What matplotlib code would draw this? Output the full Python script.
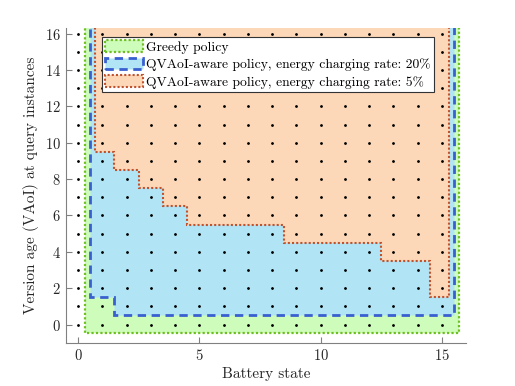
import numpy as np
import matplotlib
matplotlib.use("Agg")
from matplotlib import pyplot as plt
from matplotlib.patches import Polygon

plt.rcParams['font.family'] = ['cmr10', 'DejaVu Serif']
plt.rcParams['axes.formatter.use_mathtext'] = True

# policy regions: step edges (battery state) and lower bound (VAoI) per step
greedy_x = [0.3, 15.7]
greedy_y = [-0.45]
rate20_x = [0.5, 1.5, 15.5]
rate20_y = [1.5, 0.5]
rate5_x = [0.7, 1.5, 2.5, 3.5, 4.5, 8.5, 12.5, 14.5, 15.3]
rate5_y = [9.5, 8.5, 7.5, 6.5, 5.5, 4.5, 3.5, 1.5]

battery = np.arange(0, 16)
vaoi = np.arange(0, 17)
top = 17


def stair(xs, ys):
    pts = [(xs[0], top)]
    for i, y in enumerate(ys):
        pts.append((xs[i], y))
        pts.append((xs[i + 1], y))
    pts.append((xs[-1], top))
    return pts


def main():
    fig = plt.figure(figsize=(5.15, 3.86), dpi=100)
    ax = fig.add_axes([0.128, 0.112, 0.777, 0.815])

    g = Polygon(stair(greedy_x, greedy_y), closed=True, facecolor='#cdfcbb',
                edgecolor='#6fbf22', linestyle=(0, (1, 1)), linewidth=1.6,
                label='Greedy policy')
    b = Polygon(stair(rate20_x, rate20_y), closed=True, facecolor='#b1e5f6',
                edgecolor='#3a5fd0', linestyle=(0, (3, 2)), linewidth=2,
                label='QVAoI-aware policy, energy charging rate: 20%')
    o = Polygon(stair(rate5_x, rate5_y), closed=True, facecolor='#fdd8b8',
                edgecolor='#c0522e', linestyle=(0, (1, 1)), linewidth=1.5,
                label='QVAoI-aware policy, energy charging rate: 5%')
    for p in (g, b, o):
        ax.add_patch(p)

    xx, yy = np.meshgrid(battery, vaoi)
    ax.plot(xx.ravel(), yy.ravel(), 'k.', markersize=2, zorder=5)

    ax.set_xlim(-0.5, 16)
    ax.set_ylim(-1, 16.3)
    ax.set_xticks([0, 5, 10, 15])
    ax.set_yticks(range(0, 17, 2))
    ax.tick_params(direction='in', colors='0.5', labelcolor='0.15',
                   labelsize=10.5, length=4)
    for s in ('top', 'right'):
        ax.spines[s].set_visible(False)
    for s in ('left', 'bottom'):
        ax.spines[s].set_color('0.5')

    ax.set_xlabel('Battery state', fontsize=11, color='0.15', labelpad=3)
    ax.set_ylabel('Version age (VAoI) at query instances', fontsize=11,
                  color='0.15', labelpad=4)

    leg = ax.legend(handles=[g, b, o], loc='upper left',
                    bbox_to_anchor=(0.091, 0.971), borderaxespad=0,
                    fontsize=9.8, handlelength=2.8, handleheight=0.92,
                    labelspacing=0.3, borderpad=0.22, handletextpad=0.2,
                    fancybox=False, framealpha=1, edgecolor='0.2')
    leg.get_frame().set_linewidth(0.8)
    leg.set_zorder(10)

    fig.savefig('out.png', dpi=100)


if __name__ == "__main__":
    main()
